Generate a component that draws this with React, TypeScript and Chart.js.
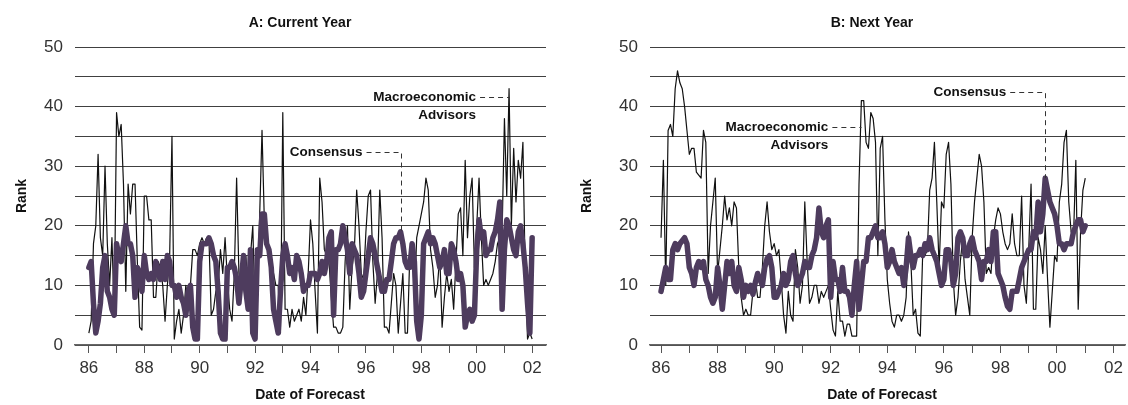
import React, { useEffect, useRef } from 'react';
import { Chart, registerables } from 'chart.js';

Chart.register(...registerables);

// Monthly forecasts starting January 1986
const START_YEAR = 1986;
const YEAR_TICKS = [1986, 1987, 1988, 1989, 1990, 1991, 1992, 1993, 1994, 1995, 1996, 1997, 1998, 1999, 2000, 2001, 2002];
const RANK_TICKS = [0, 5, 10, 15, 20, 25, 30, 35, 40, 45, 50];

// Panel A: Current Year
const A_MACRO = [
  2, 4, 17, 20, 32, 18, 15, 30, 17, 10, 18, 5,
  39, 35, 37, 27, 9, 27, 22, 27, 27, 14, 3, 2.5,
  25, 25, 21, 21, 8, 8, 14, 13, 10, 4, 10, 15,
  35, 1, 4, 6, 2, 5, 10, 7, 10, 16, 16, 15,
  17, 18, 17, 18, 18, 5, 6, 9, 10, 16, 12, 18,
  11, 6, 4, 12, 28, 12, 8, 15, 15, 9, 15, 20,
  5, 9, 22, 36, 21, 17, 15, 13, 12, 10, 10, 2,
  39, 6, 6, 3, 6, 4, 5, 6, 4, 8, 5, 12,
  21, 17, 9, 2, 28, 24, 16, 15, 14, 8, 3, 3,
  2, 2, 3, 14, 20, 6, 13, 16, 26, 20, 12, 11,
  19, 25, 26, 14, 7, 12, 26, 18, 3, 3, 2, 7,
  12, 10, 2, 7, 12, 2, 2, 15, 17, 8, 18, 20,
  22, 24, 28, 26, 16, 13, 8, 10, 15, 3, 8, 12,
  9, 11, 6, 14, 22, 23, 15, 31, 18, 25, 28, 13,
  20, 28, 18, 10, 11, 10, 11, 12, 14, 17, 18, 19,
  38, 25, 43, 20, 33, 24, 31, 28, 34, 12, 1, 2, 1,
];
const A_CONS = [
  13, 14, 7, 2, 4, 7, 13, 15, 9, 8, 6, 5,
  17, 15, 14, 17, 20, 17, 17, 15, 8, 13, 12, 9,
  15, 12, 11, 12, 11, 14, 12, 11, 14, 11, 15, 14,
  10, 10, 8, 10, 8, 7, 5, 9, 10, 3, 1, 1,
  14, 17, 17, 17, 18, 17, 15, 14, 9, 2, 1, 1,
  13, 13, 14, 13, 11, 7, 11, 15, 9, 6, 16, 2,
  1, 16, 15, 22, 22, 17, 16, 13, 6, 4, 2, 9,
  15, 17, 15, 12, 13, 11, 15, 14, 12, 9, 10, 10,
  12, 12, 12, 11, 12, 14, 12, 14, 18, 19, 5, 16,
  16, 17, 20, 18, 16, 12, 17, 16, 15, 12, 8, 9,
  12, 15, 18, 17, 15, 13, 11, 9, 9, 11, 11, 14,
  17, 18, 18, 19, 17, 14, 13, 13, 17, 14, 4, 1,
  5, 17, 18, 19, 17, 18, 17, 15, 13, 14, 16, 12,
  12, 17, 16, 14, 11, 12, 10, 3, 5, 6, 4, 5,
  16, 21, 18, 19, 15, 16, 16, 18, 19, 21, 24, 6,
  16, 21, 20, 18, 16, 15, 19, 20, 17, 13, 7, 2, 18,
];

// Panel B: Next Year
const B_MACRO = [
  18, 31, 10, 36, 37, 35, 43, 46, 44, 43, 40, 36,
  32, 33, 33, 29, 28.5, 28, 36, 34, 12, 20, 24, 28,
  12, 16, 20, 25, 21, 23, 20, 24, 23, 13, 8, 5,
  6, 5, 5, 9, 11, 8, 8, 13, 20, 24, 19, 16,
  17, 15, 16, 11, 5, 2, 9, 5, 4, 16, 13, 7,
  10, 24, 14, 7, 8, 10, 10, 7, 9, 8, 9, 10,
  6, 2.5, 1.5, 9, 4, 4, 1.5, 3.5, 3.5, 1.5, 1.5, 1.5,
  27, 41, 41, 34, 33, 39, 38, 34, 15, 33, 35, 21,
  11, 7, 4, 3, 5, 5, 4, 5, 8, 19, 14, 5,
  6, 2, 1.5, 15, 15, 16, 26, 28, 34, 24, 13, 24,
  23, 32, 34, 27, 11, 5, 8, 14, 18, 11, 8, 5,
  18, 24, 28, 32, 30, 24, 12, 13, 12, 18, 21, 23,
  22, 19, 17, 16, 17, 22, 17, 15, 15, 25, 10, 7,
  16, 27, 6, 6, 18, 16, 12, 20, 11, 3, 9, 15,
  14, 24, 27, 34, 36, 24, 19, 18, 31, 6, 19, 26, 28,
];
const B_CONS = [
  9, 11, 13, 11, 11, 16, 17, 16, 17, 17.5, 18, 17,
  13, 12, 10, 13, 14, 13, 14, 11, 10, 8, 7, 8,
  13, 10, 6, 10, 14, 12, 14, 10, 9, 13, 11, 8,
  10, 9, 10, 8.5, 10.5, 12, 11, 10, 13, 14.5, 15, 13,
  8, 8, 9, 10, 12, 10, 11, 14, 15, 12, 10, 11,
  12, 14, 13, 13, 15, 16, 18, 23, 19, 18, 20, 21,
  8, 14, 11, 11, 9, 13, 9, 9, 8, 5, 10, 14,
  6, 10, 14, 14, 18, 18, 19, 20, 18, 18, 19, 17,
  13, 14, 16, 14, 13, 12, 13, 10, 13, 18, 15, 13,
  15, 15, 16, 15, 17, 16, 18, 16, 15, 14, 12, 10,
  11, 16, 16, 14, 10, 12, 18, 19, 18, 15, 15, 17,
  18, 16, 15, 14, 11, 14, 14, 16, 14, 19, 19, 12,
  11, 10, 8, 6.5, 6, 9, 9, 9, 11, 13, 14, 15,
  16, 16, 19, 18, 24, 19, 22, 28, 26, 24, 23, 22,
  20, 17, 17, 16, 17, 17, 17, 19, 20, 21, 21, 19, 20,
];

const PURPLE = '#4e3c5e';
const FONT = '"Liberation Sans", Arial, Helvetica, sans-serif';

const toSeries = (vals: number[]) => vals.map((v, i) => ({ x: START_YEAR + i / 12, y: v }));

type Note = { series: number[]; index: number; labelValue: number; lines: string[]; gap: number; vertical: boolean };
type PanelCfg = {
  title: string;
  macro: number[];
  cons: number[];
  xMin: number;
  xMax: number;
  yAxisWidth: number;
  padRight: number;
  titleX: number;
  rankX: number;
  dateX: number;
  notes: Note[];
};

const textPlugin = {
  id: 'panelText',
  afterDraw(chart: any, _args: any, opts: any) {
    const cfg: PanelCfg = opts.cfg;
    if (!cfg) return;
    const { ctx, chartArea, scales } = chart;
    const xs = scales.x;
    const ys = scales.y;
    ctx.save();
    ctx.fillStyle = '#111';
    ctx.font = `bold 14px ${FONT}`;
    ctx.textAlign = 'center';
    ctx.textBaseline = 'middle';
    ctx.fillText(cfg.title, cfg.titleX, 23);
    ctx.fillText('Date of Forecast', cfg.dateX, 395);
    ctx.save();
    ctx.translate(cfg.rankX, (chartArea.top + chartArea.bottom) / 2);
    ctx.rotate(-Math.PI / 2);
    ctx.fillText('Rank', 0, 0);
    ctx.restore();

    ctx.font = `bold 13.5px ${FONT}`;
    ctx.textAlign = 'right';
    for (const n of cfg.notes) {
      const px = xs.getPixelForValue(START_YEAR + n.index / 12);
      const py = ys.getPixelForValue(n.series[n.index]);
      const ly = ys.getPixelForValue(n.labelValue);
      const tx = px - n.gap;
      n.lines.forEach((line, i) => ctx.fillText(line, tx, ly + i * 18));
      ctx.beginPath();
      ctx.setLineDash([5, 4]);
      ctx.strokeStyle = '#333';
      ctx.lineWidth = 1;
      ctx.moveTo(tx + 4, Math.round(ly) + 0.5);
      ctx.lineTo(Math.round(px) + 0.5, Math.round(ly) + 0.5);
      if (n.vertical) ctx.lineTo(Math.round(px) + 0.5, py);
      ctx.stroke();
      ctx.setLineDash([]);
    }
    ctx.restore();
  },
};

function Panel({ cfg, left }: { cfg: PanelCfg; left: number }) {
  const ref = useRef<HTMLCanvasElement | null>(null);
  useEffect(() => {
    if (!ref.current) return;
    const chart = new Chart(ref.current, {
      type: 'line',
      data: {
        datasets: [
          {
            label: 'Consensus',
            data: toSeries(cfg.cons),
            borderColor: PURPLE,
            borderWidth: 5.5,
            borderJoinStyle: 'round',
            borderCapStyle: 'round',
            pointRadius: 0,
            tension: 0,
            order: 0,
          },
          {
            label: 'Macroeconomic Advisors',
            data: toSeries(cfg.macro),
            borderColor: '#111',
            borderWidth: 1.2,
            borderJoinStyle: 'round',
            pointRadius: 0,
            tension: 0,
            order: 1,
          },
        ],
      },
      options: {
        responsive: false,
        maintainAspectRatio: false,
        animation: false,
        layout: { padding: { top: 47, right: cfg.padRight, left: 0, bottom: 0 } },
        plugins: {
          legend: { display: false },
          tooltip: { enabled: false },
          panelText: { cfg },
        } as any,
        scales: {
          x: {
            type: 'linear',
            min: cfg.xMin,
            max: cfg.xMax,
            afterBuildTicks: (s: any) => {
              s.ticks = YEAR_TICKS.map((v) => ({ value: v }));
            },
            afterFit: (s: any) => {
              s.height = 60;
            },
            grid: { display: true, drawOnChartArea: false, drawTicks: true, tickLength: 8, color: '#555', lineWidth: 1 },
            border: { display: true, color: '#666', width: 1.5 },
            ticks: {
              autoSkip: false,
              maxRotation: 0,
              padding: 5,
              color: '#333',
              font: { family: FONT, size: 17 },
              callback: (v: any) => (Number(v) % 2 === 0 ? String(v).slice(2) : ''),
            },
          },
          y: {
            type: 'linear',
            min: 0,
            max: 50,
            afterBuildTicks: (s: any) => {
              s.ticks = RANK_TICKS.map((v) => ({ value: v }));
            },
            afterFit: (s: any) => {
              s.width = cfg.yAxisWidth;
            },
            grid: { color: '#404040', lineWidth: 1, drawTicks: false },
            border: { display: false },
            ticks: {
              padding: 12,
              color: '#333',
              font: { family: FONT, size: 17 },
              callback: (v: any) => (Number(v) % 10 === 0 ? String(v) : ''),
            },
          },
        },
      },
      plugins: [textPlugin],
    } as any);
    return () => chart.destroy();
  }, [cfg]);
  return (
    <canvas
      ref={ref}
      width={564}
      height={405}
      style={{ position: 'absolute', left, top: 0, width: 564, height: 405 }}
    />
  );
}

const PANEL_A: PanelCfg = {
  title: 'A: Current Year',
  macro: A_MACRO,
  cons: A_CONS,
  xMin: 1985.5,
  xMax: 2002.5,
  yAxisWidth: 75,
  padRight: 18,
  titleX: 300,
  rankX: 22,
  dateX: 310,
  notes: [
    { series: A_MACRO, index: 182, labelValue: 41.6, lines: ['Macroeconomic', 'Advisors'], gap: 33, vertical: false },
    { series: A_CONS, index: 135, labelValue: 32.4, lines: ['Consensus'], gap: 38, vertical: true },
  ],
};

const PANEL_B: PanelCfg = {
  title: 'B: Next Year',
  macro: B_MACRO,
  cons: B_CONS,
  xMin: 1985.61,
  xMax: 2002.41,
  yAxisWidth: 86,
  padRight: 0,
  titleX: 308,
  rankX: 23,
  dateX: 318,
  notes: [
    { series: B_MACRO, index: 85, labelValue: 36.6, lines: ['Macroeconomic', 'Advisors'], gap: 33, vertical: false },
    { series: B_CONS, index: 163, labelValue: 42.4, lines: ['Consensus'], gap: 39, vertical: true },
  ],
};

export default function App() {
  return (
    <div style={{ position: 'fixed', left: 0, top: 0, width: 1128, height: 405, background: '#fff', overflow: 'hidden' }}>
      <Panel cfg={PANEL_A} left={0} />
      <Panel cfg={PANEL_B} left={564} />
    </div>
  );
}
